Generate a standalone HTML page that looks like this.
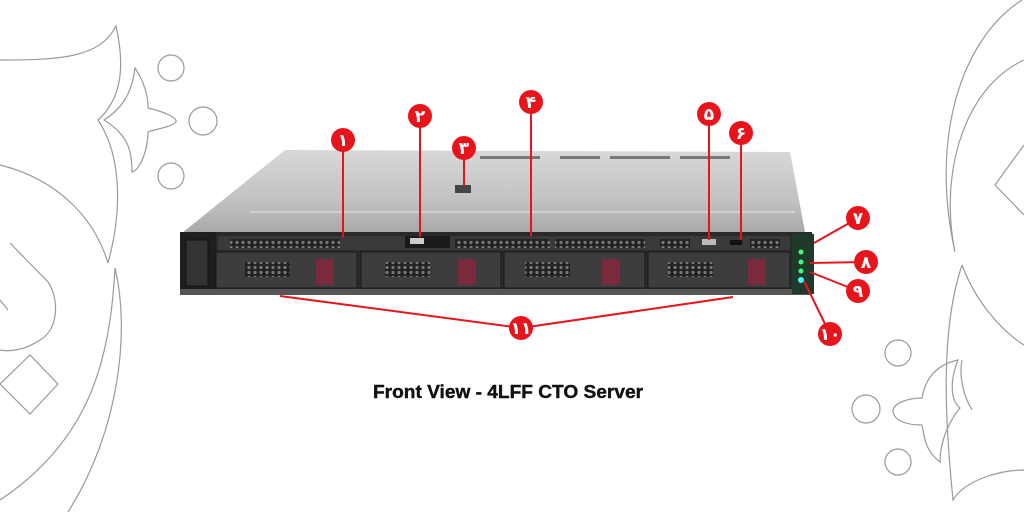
<!DOCTYPE html>
<html><head><meta charset="utf-8"><style>
html,body{margin:0;padding:0;background:#fff;width:1024px;height:512px;overflow:hidden}
svg{display:block}
.t{font-family:"Liberation Sans","DejaVu Sans",sans-serif;}
</style></head><body>
<svg width="1024" height="512" viewBox="0 0 1024 512" xmlns="http://www.w3.org/2000/svg">
<g fill="none" stroke="#9a9a9a" stroke-width="1.2">
 <path d="M0,60 C60,60 100,58 116,26 C126,70 120,100 98,120 C118,150 125,200 108,263"/>
 <path d="M0,165 C60,180 95,220 108,263"/>
 <path d="M135,68 C150,90 148,110 148,108 C165,112 178,118 176,122 C170,128 150,130 148,132 C148,150 140,170 132,172 C132,150 128,135 104,120 C120,110 132,95 135,68Z"/>
 <circle cx="171" cy="68" r="13"/><circle cx="203" cy="121" r="14"/><circle cx="171" cy="176" r="13"/>
 <path d="M10,243 L48,282 C60,300 58,330 40,340 C25,350 10,352 0,350"/>
 <path d="M0,300 L8,310"/>
 <path d="M0,384 L30,355 L58,384 L30,414 Z"/>
 <path d="M115,268 C130,330 120,430 68,512"/>
 <path d="M115,268 C110,360 90,440 0,500"/>
 <path d="M1022,0 C960,40 930,140 955,252 C940,180 960,90 1024,60"/>
 <path d="M1024,145 L995,185 L1024,215"/>
 <path d="M962,265 C940,330 945,420 953,500 C965,480 1000,470 1024,470"/>
 <path d="M962,265 C975,300 1000,330 1024,345"/>
 <path d="M958,360 C950,380 950,400 960,408 C950,420 940,440 940,462 C925,450 925,440 922,425 C905,425 893,420 893,410 C895,402 910,398 922,398 C925,380 935,365 958,360Z"/>
 <path d="M972,410 C960,390 960,370 962,360"/>
 <circle cx="898" cy="353" r="13"/><circle cx="866" cy="409" r="14"/><circle cx="898" cy="462" r="13"/>
</g>
<defs><linearGradient id="top" x1="0" y1="0" x2="0" y2="1"><stop offset="0" stop-color="#d8d8d8"/><stop offset="0.6" stop-color="#c2c2c2"/><stop offset="1" stop-color="#a8a8a8"/></linearGradient>
<pattern id="hc" width="6" height="5" patternUnits="userSpaceOnUse"><rect width="6" height="5" fill="#222"/><circle cx="3" cy="2.5" r="1.6" fill="#777"/></pattern></defs>
<path d="M285,150 L790,152 L805,232 L182,233 Z" fill="url(#top)"/>
<line x1="250" y1="212" x2="795" y2="212" stroke="#e6e6e6" stroke-width="1"/>
<rect x="455" y="185" width="16" height="8" fill="#444"/>
<g fill="#777"><rect x="480" y="156" width="60" height="3"/><rect x="560" y="156" width="40" height="3"/><rect x="610" y="156" width="60" height="3"/><rect x="680" y="156" width="50" height="3"/></g>
<rect x="180" y="232" width="632" height="63" fill="#2a2a2a"/>
<rect x="180" y="232" width="36" height="63" fill="#1e1e1e"/>
<rect x="186" y="240" width="22" height="46" fill="#333" stroke="#111"/>
<rect x="218" y="236" width="572" height="14" fill="#3a3a3a"/>
<g fill="url(#hc)">
<rect x="230" y="239" width="110" height="9"/><rect x="455" y="239" width="95" height="9"/><rect x="555" y="239" width="90" height="9"/><rect x="660" y="239" width="30" height="9"/><rect x="750" y="239" width="30" height="9"/>
</g>
<rect x="405" y="236" width="45" height="12" fill="#1a1a1a"/><rect x="410" y="238" width="14" height="6" fill="#ccc"/>
<rect x="702" y="239" width="14" height="6" fill="#bbb"/><rect x="730" y="240" width="12" height="5" fill="#111"/>
<g>
 <rect x="216" y="252" width="141" height="36" fill="#3d3d3d" stroke="#1a1a1a"/>
 <rect x="361" y="252" width="140" height="36" fill="#3d3d3d" stroke="#1a1a1a"/>
 <rect x="504" y="252" width="141" height="36" fill="#3d3d3d" stroke="#1a1a1a"/>
 <rect x="648" y="252" width="142" height="36" fill="#3d3d3d" stroke="#1a1a1a"/>
 <g fill="url(#hc)"><rect x="245" y="262" width="45" height="15"/><rect x="385" y="262" width="45" height="15"/><rect x="525" y="262" width="45" height="15"/><rect x="668" y="262" width="45" height="15"/></g>
 <g fill="#7a2a3c"><rect x="316" y="259" width="18" height="26"/><rect x="458" y="259" width="18" height="26"/><rect x="602" y="259" width="18" height="26"/><rect x="748" y="259" width="18" height="26"/></g>
</g>
<rect x="180" y="289" width="632" height="6" fill="#555"/>
<rect x="792" y="234" width="22" height="60" fill="#1f3a2a"/>
<g fill="#3dff7a"><circle cx="801" cy="252" r="2.5"/><circle cx="801" cy="262" r="2.5"/><circle cx="801" cy="271" r="2.5"/></g><circle cx="801" cy="280" r="3" fill="#40ffff"/>
<g stroke="#e8141c" stroke-width="2" fill="none">
<line x1="343" y1="140" x2="343" y2="237"/><line x1="420" y1="116" x2="420" y2="237"/><line x1="464" y1="148" x2="464" y2="186"/><line x1="531" y1="102" x2="531" y2="236"/><line x1="709" y1="114" x2="709" y2="240"/><line x1="741" y1="133" x2="741" y2="240"/>
<line x1="858" y1="218" x2="814" y2="243"/><line x1="866" y1="262" x2="810" y2="263"/><line x1="858" y1="291" x2="810" y2="272"/><line x1="830" y1="334" x2="804" y2="281"/>
<line x1="521" y1="328" x2="280" y2="296"/><line x1="521" y1="328" x2="733" y2="297"/>
</g>
<g fill="#e8141c">
<circle cx="343" cy="140" r="12"/><circle cx="420" cy="116" r="12"/><circle cx="464" cy="148" r="12"/><circle cx="531" cy="102" r="12"/><circle cx="709" cy="114" r="12"/><circle cx="741" cy="133" r="12"/><circle cx="858" cy="218" r="12"/><circle cx="866" cy="262" r="12"/><circle cx="858" cy="291" r="12"/><circle cx="830" cy="334" r="12"/><circle cx="521" cy="328" r="12"/>
</g>
<g class="t" fill="#fff" font-weight="bold" font-size="17" text-anchor="middle">
<text x="343" y="146">١</text><text x="420" y="122">٢</text><text x="464" y="154">٣</text><text x="531" y="108">۴</text><text x="709" y="120">۵</text><text x="741" y="139">۶</text><text x="858" y="224">٧</text><text x="866" y="268">٨</text><text x="858" y="297">٩</text><text x="830" y="340">١٠</text><text x="521" y="334">١١</text>
</g>
<text class="t" x="508" y="398" font-size="18" font-weight="bold" fill="#111" text-anchor="middle" textLength="270" lengthAdjust="spacingAndGlyphs" stroke="#111" stroke-width="0.4">Front View - 4LFF CTO Server</text>
</svg>
</body></html>
